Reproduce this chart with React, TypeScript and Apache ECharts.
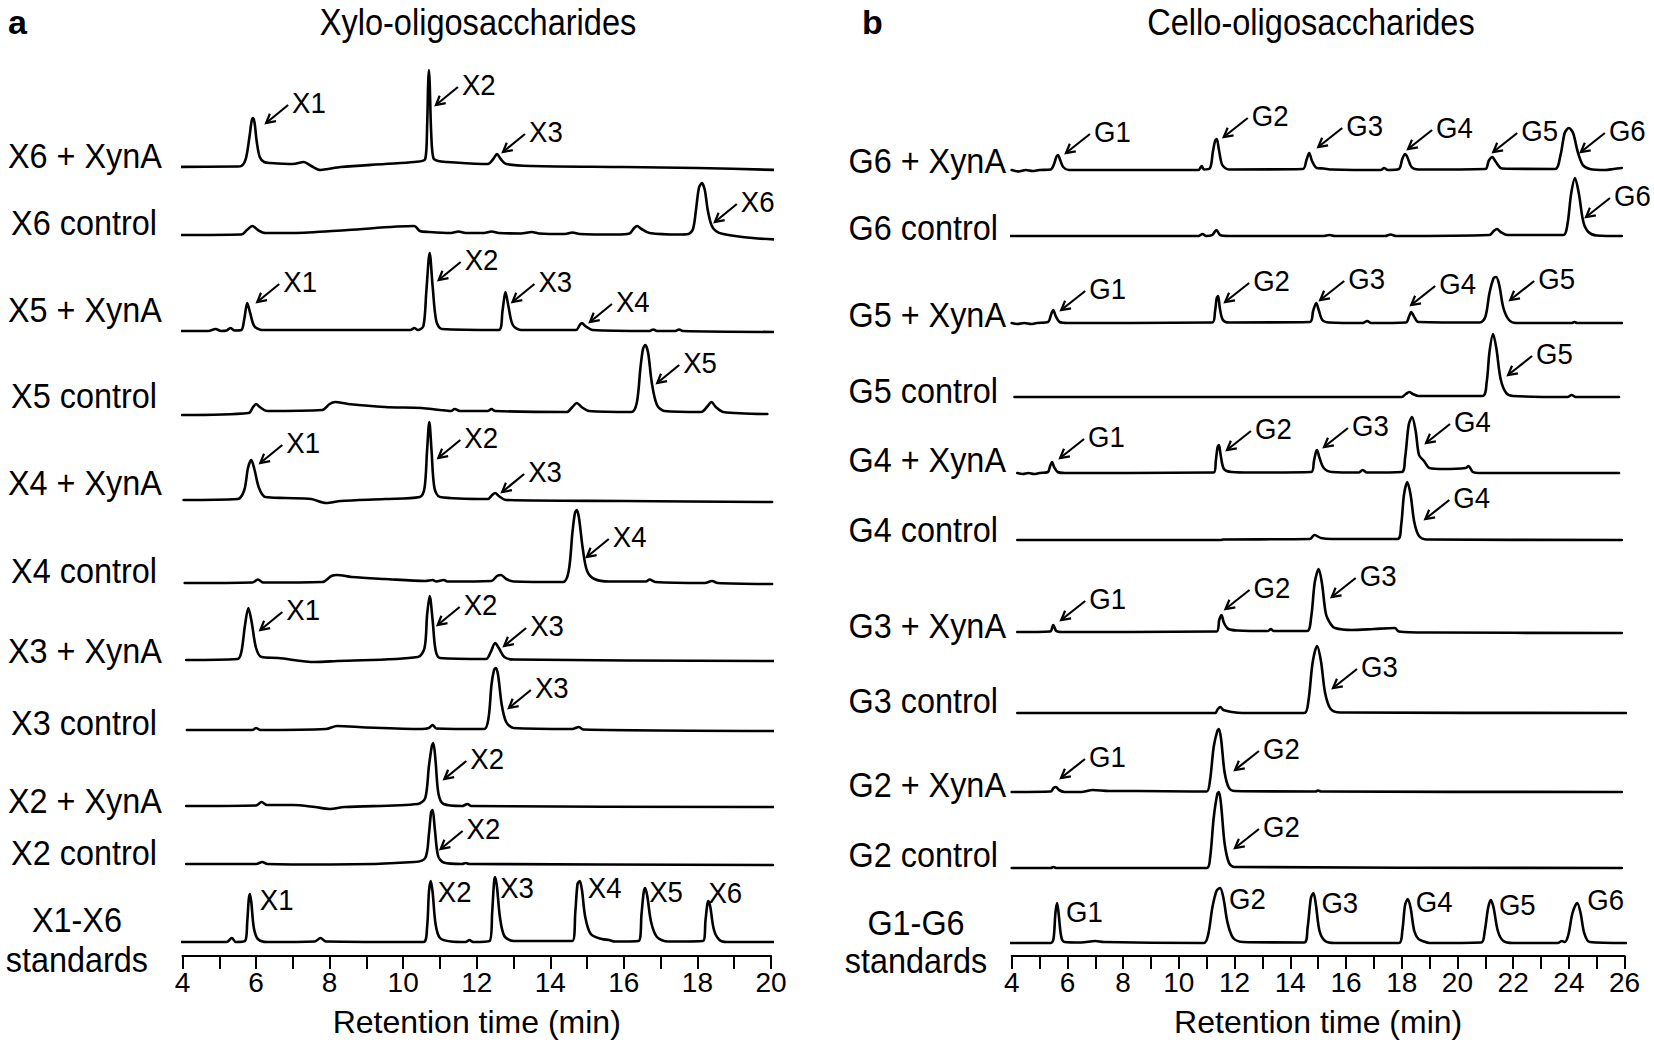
import React, { useEffect, useRef } from "react";
import * as echarts from "echarts";

const FONT = '"Liberation Sans", Arial, Helvetica, sans-serif';
const AXIS_Y = 956; // pixel row of both x axes; y axis units = pixels above it

// ---------------- Panel a : Xylo-oligosaccharides ----------------
const XYLO_TITLE = "Xylo-oligosaccharides";
const XYLO_X_MIN = 4;
const XYLO_X_MAX = 20;
const XYLO_ROW_LABELS = [
  "X6 + XynA", "X6 control", "X5 + XynA", "X5 control", "X4 + XynA",
  "X4 control", "X3 + XynA", "X3 control", "X2 + XynA", "X2 control", "X1-X6\nstandards",
];
// detector signal (px above each trace's own baseline) vs retention time (min)
const TR_X6_XYNA = [[3.47,0],[5.5,0.5],[5.6,1],[5.72,8],[5.82,30],[5.88,46],[5.92,49],[5.96,44],[6.02,25],[6.1,10],[6.22,5],[6.4,4],[7.0,3],[7.3,5],[7.5,1],[7.75,-3],[7.95,-2],[8.3,0],[9.5,3],[10.3,5],[10.6,8],[10.65,40],[10.68,85],[10.7,97],[10.72,85],[10.76,35],[10.82,9],[10.95,6],[11.2,5],[12.3,3],[12.45,8],[12.55,13],[12.65,8],[12.8,3],[13.5,1],[16,0],[18,-1],[20.19,-3]];
const TR_X6_CTRL = [[3.52,0],[5.6,0.5],[5.75,5],[5.9,9],[6.05,5],[6.25,2],[7.0,2],[8.5,5],[10.3,9],[10.45,4],[10.7,3],[11.3,2],[11.5,3.5],[11.7,2],[12.2,2],[12.4,3.5],[12.6,2],[13.2,1.5],[13.5,3],[13.7,1.5],[14.4,1],[14.6,2.5],[14.8,1],[15.8,0.5],[16.15,1.5],[16.28,7],[16.36,9],[16.48,6],[16.7,2],[17.5,0.5],[17.75,1],[17.88,6],[17.96,25],[18.04,47],[18.12,52],[18.2,45],[18.28,25],[18.38,10],[18.5,4],[18.7,1],[19.5,-3],[20.43,-5]];
const TR_X5_XYNA = [[3.9,0],[4.7,0],[4.9,2],[5.05,0],[5.2,0.5],[5.3,3],[5.42,0.5],[5.6,1],[5.68,12],[5.76,28],[5.84,18],[5.95,5],[6.15,1],[10.2,1],[10.3,3],[10.4,1],[10.55,5],[10.63,40],[10.72,78],[10.8,45],[10.9,10],[11.05,2],[12.6,1],[12.7,20],[12.78,39],[12.86,25],[12.98,6],[13.2,1],[14.7,1],[14.8,6],[14.86,8],[14.95,5],[15.15,1],[16.7,0],[16.8,1.5],[16.9,0],[17.4,0],[17.5,1.5],[17.6,0],[20.2,-1]];
const TR_X5_CTRL = [[3.99,-2],[5.8,0],[5.92,6],[6.0,9],[6.1,6],[6.3,2],[7.8,3],[8.0,9],[8.15,11],[8.5,9],[9.5,6],[10.5,5],[11.0,3],[11.3,2],[11.4,4],[11.55,2],[12.0,2],[12.3,2],[12.4,4],[12.5,2],[14.45,1],[14.6,6],[14.72,10],[14.85,6],[15.05,2],[16.2,1],[16.35,10],[16.45,45],[16.52,64],[16.58,68],[16.66,60],[16.76,30],[16.9,8],[17.1,2],[18.1,1],[18.28,7],[18.38,11],[18.5,6],[18.7,1],[19.9,-1]];
const TR_X4_XYNA = [[4.03,0],[5.5,1],[5.68,10],[5.78,32],[5.87,40],[5.96,30],[6.08,12],[6.25,3],[6.8,2],[7.5,1],[7.9,-3],[8.3,-1],[9.5,1],[10.45,3],[10.58,12],[10.65,50],[10.71,78],[10.77,50],[10.85,12],[11.0,3],[12.3,1],[12.42,5],[12.5,7],[12.6,4],[12.8,0],[16,-1],[20.03,-2]];
const TR_X4_CTRL = [[4.06,0],[5.9,0.5],[6.05,3.5],[6.2,0.5],[7.8,1],[8.05,7],[8.2,8],[8.6,6],[9.5,4],[10.6,2],[10.8,3],[10.9,1.5],[11.1,3],[11.2,1.5],[12.4,2],[12.55,7],[12.66,8],[12.8,4],[13.0,1.5],[14.35,1],[14.5,12],[14.6,50],[14.67,70],[14.72,73],[14.78,65],[14.88,35],[15.0,12],[15.2,4],[15.6,1.5],[16.6,1.5],[16.7,3.5],[16.85,1],[18.2,0],[18.4,2],[18.55,0],[20.03,-1]];
const TR_X3_XYNA = [[4.1,0],[5.5,1],[5.6,8],[5.7,35],[5.79,52],[5.88,38],[6.0,12],[6.15,3],[6.6,2],[7.6,-2],[8.2,-1],[10.4,3],[10.58,12],[10.65,45],[10.72,64],[10.8,40],[10.88,10],[11.0,2],[12.25,1],[12.38,8],[12.5,17],[12.6,12],[12.75,3],[13.0,0.5],[20.1,-1]];
const TR_X3_CTRL = [[4.12,0],[5.9,0],[6.0,2],[6.12,0],[7.9,1],[8.2,4],[9.0,2.5],[10.5,1],[10.7,2],[10.8,5],[10.9,1.5],[12.2,1],[12.32,12],[12.4,45],[12.47,60],[12.52,62],[12.58,55],[12.68,25],[12.8,8],[13.0,2],[14.6,1],[14.77,3],[14.9,0.5],[20.1,-1]];
const TR_X2_XYNA = [[4.1,0],[6.0,0.5],[6.15,4],[6.3,1],[7.0,1],[7.6,-1],[8.0,-3],[8.4,-1],[10.4,2],[10.6,8],[10.7,40],[10.78,60],[10.82,63],[10.88,45],[10.96,12],[11.1,2],[11.6,0],[11.75,2],[11.85,0],[20.1,-1]];
const TR_X2_CTRL = [[4.1,0],[6.0,0],[6.17,2],[6.3,0],[8.0,-0.5],[10.3,2],[10.6,6],[10.7,30],[10.76,52],[10.8,54],[10.86,35],[10.95,8],[11.1,1.5],[11.6,0],[11.7,1],[11.8,0],[20.05,-1]];
const TR_X_STD = [[3.88,0],[5.2,0],[5.34,4],[5.45,0],[5.7,1],[5.76,20],[5.8,42],[5.83,48],[5.87,40],[5.94,14],[6.05,3],[6.3,0],[7.6,0.5],[7.75,4],[7.9,0.5],[10.55,0],[10.65,15],[10.7,50],[10.75,61],[10.8,50],[10.88,18],[11.0,4],[11.3,0.5],[11.7,0],[11.8,2],[11.9,0],[12.35,1],[12.42,30],[12.47,60],[12.5,65],[12.55,55],[12.63,25],[12.75,6],[13.0,1],[14.6,1],[14.68,30],[14.74,58],[14.8,61],[14.86,52],[14.95,25],[15.1,8],[15.4,3],[15.6,2],[15.75,0.5],[16.4,1],[16.48,28],[16.54,50],[16.58,54],[16.64,45],[16.74,20],[16.9,5],[17.2,0.5],[18.15,1],[18.22,22],[18.27,38],[18.3,41],[18.35,35],[18.45,12],[18.6,2],[18.8,0],[20.08,0]];
const XYLO_TRACES = [TR_X6_XYNA, TR_X6_CTRL, TR_X5_XYNA, TR_X5_CTRL, TR_X4_XYNA, TR_X4_CTRL, TR_X3_XYNA, TR_X3_CTRL, TR_X2_XYNA, TR_X2_CTRL, TR_X_STD];
// peak annotations: [row, retention time of peak, label]
const XYLO_ARROWS = [
  [0, 5.92, "X1"], [0, 10.7, "X2"], [0, 12.55, "X3"],
  [1, 18.12, "X6"],
  [2, 5.76, "X1"], [2, 10.72, "X2"], [2, 12.78, "X3"], [2, 14.86, "X4"],
  [3, 16.58, "X5"],
  [4, 5.87, "X1"], [4, 10.71, "X2"], [4, 12.5, "X3"],
  [5, 14.72, "X4"],
  [6, 5.79, "X1"], [6, 10.72, "X2"], [6, 12.5, "X3"],
  [7, 12.52, "X3"],
  [8, 10.82, "X2"],
  [9, 10.8, "X2"],
];
const XYLO_STD_PEAKS = [[5.83, "X1"], [10.75, "X2"], [12.5, "X3"], [14.8, "X4"], [16.58, "X5"], [18.3, "X6"]];

// ---------------- Panel b : Cello-oligosaccharides ----------------
const CELLO_TITLE = "Cello-oligosaccharides";
const CELLO_X_MIN = 4;
const CELLO_X_MAX = 26;
const CELLO_ROW_LABELS = [
  "G6 + XynA", "G6 control", "G5 + XynA", "G5 control", "G4 + XynA",
  "G4 control", "G3 + XynA", "G3 control", "G2 + XynA", "G2 control", "G1-G6\nstandards",
];
const TR_G6_XYNA = [[4.0,0],[4.25,-1.5],[4.5,0],[4.75,-1],[5.0,0],[5.4,0.5],[5.52,6],[5.6,13],[5.66,15],[5.74,10],[5.85,3],[6.05,0],[10.7,0],[10.82,4],[10.9,0.5],[11.12,2],[11.22,18],[11.3,29],[11.36,31],[11.44,20],[11.56,5],[11.8,0.5],[14.45,1],[14.58,10],[14.68,17],[14.78,9],[14.95,2],[15.2,1.5],[15.5,0.5],[17.25,0],[17.37,2],[17.5,0],[17.9,1],[18.02,11],[18.12,16],[18.2,13],[18.35,3],[18.6,0.5],[21.0,1],[21.12,9],[21.25,13],[21.38,8],[21.6,1.5],[23.5,1],[23.7,15],[23.85,37],[24.0,42],[24.15,37],[24.32,18],[24.5,5],[24.75,1],[25.3,0],[25.6,1],[25.9,2]];
const TR_G6_CTRL = [[3.95,0],[10.7,0],[10.85,2],[10.98,0],[11.2,1],[11.35,6],[11.48,1],[11.8,0],[15.2,0],[15.4,1],[15.6,0],[17.4,0],[17.6,1.5],[17.8,0],[21.15,1],[21.3,5],[21.42,7],[21.55,4],[21.8,1],[23.8,1],[23.95,12],[24.08,42],[24.22,58],[24.36,42],[24.52,14],[24.7,4],[25.0,0.5],[25.9,0]];
const TR_G5_XYNA = [[4.0,0],[4.2,-1],[4.45,0],[4.7,-1],[4.9,0],[5.3,1],[5.42,9],[5.49,13],[5.58,7],[5.72,1],[6.0,0],[11.2,0.5],[11.3,12],[11.36,25],[11.41,27],[11.47,15],[11.58,3],[11.8,0.5],[14.7,1],[14.82,12],[14.93,20],[15.02,13],[15.15,3],[15.4,0.5],[16.6,0],[16.76,2],[16.9,0],[18.15,0.5],[18.27,7],[18.34,11],[18.43,7],[18.6,1],[20.8,0.5],[21.0,6],[21.15,30],[21.3,45],[21.39,46],[21.5,38],[21.65,15],[21.85,3],[22.1,0],[24.1,0],[24.2,1],[24.3,0],[25.9,0]];
const TR_G5_CTRL = [[4.1,0],[18.0,0],[18.15,3],[18.27,5],[18.4,3],[18.6,1],[20.9,1],[21.05,15],[21.15,45],[21.28,63],[21.4,48],[21.55,18],[21.75,4],[22.0,1],[23.95,0],[24.1,2],[24.25,0],[25.8,0]];
const TR_G4_XYNA = [[4.2,0],[4.4,-1],[4.6,0],[4.8,-1],[5.0,0],[5.3,1],[5.38,7],[5.45,11],[5.52,6],[5.65,1],[5.9,0],[11.25,0.5],[11.33,13],[11.39,26],[11.44,28],[11.5,18],[11.62,4],[11.9,1],[12.6,0.5],[14.75,1],[14.85,12],[14.92,21],[14.96,23],[15.04,16],[15.2,5],[15.5,1],[16.45,0.5],[16.6,3],[16.75,0.5],[18.0,1],[18.12,15],[18.25,48],[18.37,56],[18.5,42],[18.62,18],[18.8,12],[19.0,5],[19.5,4],[20.3,5],[20.4,7],[20.55,1],[20.8,0],[25.8,0]];
const TR_G4_CTRL = [[4.2,0],[11.5,0],[11.6,0.5],[14.7,1],[14.87,5],[15.1,2],[15.5,1],[17.85,1],[17.98,15],[18.08,45],[18.2,58],[18.32,45],[18.45,18],[18.62,4],[18.9,0.5],[25.9,0]];
const TR_G3_XYNA = [[4.2,0],[5.38,0.5],[5.49,7],[5.6,1],[5.8,0],[11.35,0.5],[11.45,12],[11.53,17],[11.62,9],[11.78,3],[12.1,1.5],[13.2,1],[13.3,3],[13.4,1],[14.6,1],[14.75,15],[14.88,50],[15.02,63],[15.14,48],[15.28,18],[15.45,8],[15.6,4],[16.2,2],[17.0,3],[17.75,4],[17.9,0.5],[19.0,-0.5],[25.9,-1]];
const TR_G3_CTRL = [[4.2,0],[11.3,0],[11.4,4],[11.49,6],[11.6,3],[11.9,1],[12.3,0],[14.5,0],[14.65,12],[14.8,50],[14.96,67],[15.1,52],[15.25,20],[15.45,4],[15.8,0.5],[26.05,0]];
const TR_G2_XYNA = [[4.0,0],[5.4,0.5],[5.5,4],[5.59,5],[5.7,2],[5.9,0],[6.5,0],[6.9,2],[7.5,1],[8.5,1],[10.5,0.5],[11.0,0.5],[11.12,12],[11.25,45],[11.38,61],[11.44,63],[11.52,52],[11.64,20],[11.8,4],[12.0,1],[14.9,0.5],[15.0,1.5],[15.1,0.5],[25.9,0]];
const TR_G2_CTRL = [[4.0,0],[5.4,0],[5.5,1],[5.6,0],[11.0,0],[11.12,10],[11.25,50],[11.38,74],[11.44,76],[11.52,62],[11.64,25],[11.8,5],[12.0,1],[25.9,0]];
const TR_G_STD = [[3.8,0],[5.4,0],[5.5,4],[5.57,30],[5.63,40],[5.69,28],[5.78,6],[5.9,1],[6.5,0.5],[7.0,2],[7.3,1],[10.9,0],[11.05,8],[11.2,35],[11.35,52],[11.48,55],[11.6,45],[11.75,20],[11.95,5],[12.3,1],[14.5,0.5],[14.62,15],[14.74,45],[14.83,50],[14.92,38],[15.05,12],[15.25,2],[15.6,0],[17.9,0],[18.02,12],[18.12,38],[18.22,44],[18.32,35],[18.45,12],[18.6,4],[18.75,2],[19.0,0],[20.85,0.5],[20.98,12],[21.1,35],[21.2,43],[21.3,35],[21.45,12],[21.65,2],[22.0,0],[23.6,0],[23.75,2],[23.85,1],[23.98,8],[24.13,30],[24.3,40],[24.42,30],[24.55,10],[24.75,1],[26.05,0]];
const CELLO_TRACES = [TR_G6_XYNA, TR_G6_CTRL, TR_G5_XYNA, TR_G5_CTRL, TR_G4_XYNA, TR_G4_CTRL, TR_G3_XYNA, TR_G3_CTRL, TR_G2_XYNA, TR_G2_CTRL, TR_G_STD];
const CELLO_ARROWS = [
  [0, 5.66, "G1"], [0, 11.36, "G2"], [0, 14.68, "G3"], [0, 18.12, "G4"], [0, 21.25, "G5"], [0, 24.0, "G6"],
  [1, 24.22, "G6"],
  [2, 5.49, "G1"], [2, 11.41, "G2"], [2, 14.93, "G3"], [2, 18.34, "G4"], [2, 21.39, "G5"],
  [3, 21.28, "G5"],
  [4, 5.45, "G1"], [4, 11.44, "G2"], [4, 14.96, "G3"], [4, 18.37, "G4"],
  [5, 18.2, "G4"],
  [6, 5.49, "G1"], [6, 11.53, "G2"], [6, 15.02, "G3"],
  [7, 14.96, "G3"],
  [8, 5.59, "G1"], [8, 11.44, "G2"],
  [9, 11.44, "G2"],
];
const CELLO_STD_PEAKS = [[5.63, "G1"], [11.48, "G2"], [14.83, "G3"], [18.22, "G4"], [21.2, "G5"], [24.3, "G6"]];

// ---------------- layout (pixels) ----------------
const XYLO_LAYOUT = {
  gridLeft: 182.5, gridWidth: 588.5, labelT: 3.44,
  baselines: [167, 235, 331, 413, 500, 583, 660, 730, 806, 864, 942],
  labelDy: [1, 0, -9, -5, -5, 0, 3, 5, 7, 1],
  labelDx: [0, -5, 0, -5, 0, -5, 0, -5, 0, -5],
  arrowTip: [[13,5],[7,35],[6,-2],[13,39],[10,-1],[9,27],[7,10],[8,-1],[12,38],[9,3],[9,36],[7,-1],[10,47],[12,22],[8,29],[9,3],[13,40],[11,36],[8,39]],
  stdOffset: [[10,6],[7,11],[5,11],[8,7],[4,4],[0,-8]],
  vec: [22, -18],
  titleX: 478, letterX: 8, letter: "a",
  stdLines: [-10, 30], stdDx: -85,
};
const CELLO_LAYOUT = {
  gridLeft: 1011.7, gridWidth: 612.9, labelT: 3.795,
  baselines: [170, 236, 323, 397, 473, 540, 632, 713, 792, 868, 943],
  labelDy: [3, 4, 4, 6, -1, 2, 6, 0, 5, -1],
  labelDx: [0, -8, 0, -8, 0, -8, 0, -8, 0, -8],
  arrowTip: [[8,-2],[7,-2],[9,-6],[3,-5],[1,-5],[12,24],[11,39],[8,0],[7,6],[4,-3],[0,-7],[14,23],[15,41],[8,-4],[8,5],[7,-3],[14,26],[18,37],[8,-5],[4,-6],[13,28],[16,42],[5,-9],[16,41],[16,56]],
  stdOffset: [[9,9],[9,11],[8,10],[8,3],[8,5],[10,-3]],
  vec: [24, -19],
  titleX: 1311, letterX: 862, letter: "b",
  stdLines: [-8, 30], stdDx: -90,
};

const ROW_FS = 36;
const ROW_SX = 0.9;
const PEAK_FS = 30;
const PEAK_SX = 0.92;

function apexValue(trace: number[][], t: number) {
  let best = trace[0];
  for (const p of trace) if (Math.abs(p[0] - t) < Math.abs(best[0] - t)) best = p;
  return best[1];
}

function textEl(text: string, x: number, y: number, fs: number, align: string, sx: number) {
  return {
    type: "text",
    x, y, scaleX: sx, scaleY: 1,
    style: {
      text, x: 0, y: 0, fill: "#000", fontSize: fs, fontFamily: FONT,
      align, verticalAlign: "middle", textAlign: align, textVerticalAlign: "middle",
    },
  };
}

function buildPanel(pi: number, traces: number[][][], labels: string[], arrows: any[], stdPeaks: any[], L: any) {
  const series: any[] = [];
  traces.forEach((tr, i) => {
    const off = AXIS_Y - L.baselines[i];
    series.push({
      type: "line", xAxisIndex: pi, yAxisIndex: pi, silent: true, clip: false,
      symbol: "none", smooth: 0.3,
      lineStyle: { color: "#000", width: 2.6, join: "round", cap: "round" },
      data: tr.map((p) => [p[0], off + p[1]]),
    });
  });
  // row labels
  series.push({
    type: "custom", xAxisIndex: pi, yAxisIndex: pi, coordinateSystem: "cartesian2d", silent: true, clip: false,
    data: labels.map((_, i) => [L.labelT, AXIS_Y - L.baselines[i]]),
    renderItem: (params: any, api: any) => {
      const i = params.dataIndex;
      const p = api.coord([api.value(0), api.value(1)]);
      const lines = labels[i].split("\n");
      if (lines.length > 1) {
        return {
          type: "group",
          children: lines.map((s, k) => textEl(s, p[0] + L.stdDx, p[1] + L.stdLines[k] - 0.35 * ROW_FS, ROW_FS, "center", ROW_SX)),
        };
      }
      return textEl(labels[i], p[0] + L.labelDx[i], p[1] + L.labelDy[i] - 0.35 * ROW_FS, ROW_FS, "right", ROW_SX);
    },
  });
  // arrows + peak names
  series.push({
    type: "custom", xAxisIndex: pi, yAxisIndex: pi, coordinateSystem: "cartesian2d", silent: true, clip: false,
    data: arrows.map((a) => [a[1], AXIS_Y - L.baselines[a[0]] + apexValue(traces[a[0]], a[1])]),
    renderItem: (params: any, api: any) => {
      const i = params.dataIndex;
      const p = api.coord([api.value(0), api.value(1)]);
      const [dx, dy] = L.arrowTip[i];
      const tip = [p[0] + dx, p[1] + dy];
      const tail = [tip[0] + L.vec[0], tip[1] + L.vec[1]];
      const len = Math.hypot(L.vec[0], L.vec[1]);
      const ux = L.vec[0] / len, uy = L.vec[1] / len;
      const hl = 10, ang = 0.5;
      const rot = (a: number) => [tip[0] + hl * (ux * Math.cos(a) - uy * Math.sin(a)), tip[1] + hl * (ux * Math.sin(a) + uy * Math.cos(a))];
      return {
        type: "group",
        children: [
          { type: "line", shape: { x1: tail[0], y1: tail[1], x2: tip[0], y2: tip[1] }, style: { stroke: "#000", lineWidth: 2.2 } },
          { type: "polyline", shape: { points: [rot(ang), tip, rot(-ang)] }, style: { stroke: "#000", lineWidth: 2.2, fill: "none" } },
          textEl(arrows[i][2], tail[0] + 4, tail[1] - 2, PEAK_FS, "left", PEAK_SX),
        ],
      };
    },
  });
  // standards peak names
  const stdRow = traces.length - 1;
  series.push({
    type: "custom", xAxisIndex: pi, yAxisIndex: pi, coordinateSystem: "cartesian2d", silent: true, clip: false,
    data: stdPeaks.map((s) => [s[0], AXIS_Y - L.baselines[stdRow] + apexValue(traces[stdRow], s[0])]),
    renderItem: (params: any, api: any) => {
      const i = params.dataIndex;
      const p = api.coord([api.value(0), api.value(1)]);
      const [dx, dy] = L.stdOffset[i];
      return textEl(stdPeaks[i][1], p[0] + dx, p[1] + dy, PEAK_FS, "left", PEAK_SX);
    },
  });
  return series;
}

function xAxis(gi: number, min: number, max: number) {
  return {
    gridIndex: gi, type: "value", min, max, interval: 2,
    axisLine: { show: true, onZero: false, lineStyle: { color: "#000", width: 2.2 } },
    axisTick: { show: true, inside: false, length: 13, lineStyle: { color: "#000", width: 2 } },
    minorTick: { show: true, splitNumber: 2, length: 13, lineStyle: { color: "#000", width: 2 } },
    splitLine: { show: false }, minorSplitLine: { show: false },
    axisLabel: { color: "#000", fontSize: 28, fontFamily: FONT, margin: 12 },
    name: "Retention time (min)", nameLocation: "middle", nameGap: 50,
    nameTextStyle: { color: "#000", fontSize: 32, fontFamily: FONT },
  };
}

function titleEl(text: string, x: number) {
  return { type: "text", x, y: 22, scaleX: 0.88, style: { text, x: 0, y: 0, fill: "#000", fontSize: 37, fontFamily: FONT, align: "center", verticalAlign: "middle", textAlign: "center", textVerticalAlign: "middle" } };
}
function letterEl(text: string, x: number) {
  return { type: "text", x, y: 22, style: { text, x: 0, y: 0, fill: "#000", fontSize: 34, fontWeight: "bold", fontFamily: FONT, align: "left", verticalAlign: "middle", textAlign: "left", textVerticalAlign: "middle" } };
}

export default function App() {
  const ref = useRef<HTMLDivElement>(null);
  useEffect(() => {
    if (!ref.current) return;
    const chart = echarts.init(ref.current, null, { renderer: "svg" });
    const option: any = {
      animation: false,
      backgroundColor: "#fff",
      grid: [
        { left: XYLO_LAYOUT.gridLeft, top: 0, width: XYLO_LAYOUT.gridWidth, height: AXIS_Y, containLabel: false, outerBoundsMode: "none" },
        { left: CELLO_LAYOUT.gridLeft, top: 0, width: CELLO_LAYOUT.gridWidth, height: AXIS_Y, containLabel: false, outerBoundsMode: "none" },
      ],
      xAxis: [xAxis(0, XYLO_X_MIN, XYLO_X_MAX), xAxis(1, CELLO_X_MIN, CELLO_X_MAX)],
      yAxis: [
        { gridIndex: 0, type: "value", min: 0, max: AXIS_Y, show: false },
        { gridIndex: 1, type: "value", min: 0, max: AXIS_Y, show: false },
      ],
      graphic: [
        titleEl(XYLO_TITLE, XYLO_LAYOUT.titleX),
        titleEl(CELLO_TITLE, CELLO_LAYOUT.titleX),
        letterEl(XYLO_LAYOUT.letter, XYLO_LAYOUT.letterX),
        letterEl(CELLO_LAYOUT.letter, CELLO_LAYOUT.letterX),
      ],
      series: [
        ...buildPanel(0, XYLO_TRACES, XYLO_ROW_LABELS, XYLO_ARROWS, XYLO_STD_PEAKS, XYLO_LAYOUT),
        ...buildPanel(1, CELLO_TRACES, CELLO_ROW_LABELS, CELLO_ARROWS, CELLO_STD_PEAKS, CELLO_LAYOUT),
      ],
    };
    chart.setOption(option);
    return () => chart.dispose();
  }, []);
  return <div ref={ref} style={{ position: "absolute", left: 0, top: 0, width: 1654, height: 1043, background: "#fff" }} />;
}
